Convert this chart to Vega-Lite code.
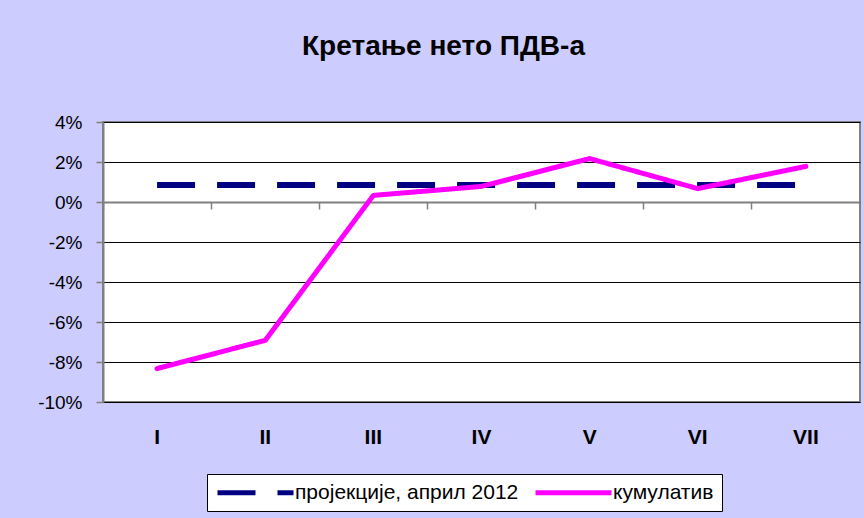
{
  "$schema": "https://vega.github.io/schema/vega-lite/v6.json",
  "width": 757,
  "height": 280,
  "autosize": {"type": "none"},
  "padding": {"left": 103, "top": 122, "right": 4, "bottom": 116},
  "background": "#CCCCFF",
  "title": {
    "text": "Кретање нето ПДВ-а",
    "fontSize": 28,
    "fontWeight": "bold",
    "font": "Liberation Sans",
    "color": "black",
    "anchor": "middle",
    "baseline": "bottom",
    "dx": -38,
    "offset": 24
  },
  "data": {
    "values": [
      {"month": "I", "series": "пројекције, април 2012", "value": 0.85},
      {"month": "II", "series": "пројекције, април 2012", "value": 0.85},
      {"month": "III", "series": "пројекције, април 2012", "value": 0.85},
      {"month": "IV", "series": "пројекције, април 2012", "value": 0.85},
      {"month": "V", "series": "пројекције, април 2012", "value": 0.85},
      {"month": "VI", "series": "пројекције, април 2012", "value": 0.85},
      {"month": "VII", "series": "пројекције, април 2012", "value": 0.85},
      {"month": "I", "series": "кумулатив", "value": -8.33},
      {"month": "II", "series": "кумулатив", "value": -6.92},
      {"month": "III", "series": "кумулатив", "value": 0.33},
      {"month": "IV", "series": "кумулатив", "value": 0.78},
      {"month": "V", "series": "кумулатив", "value": 2.17},
      {"month": "VI", "series": "кумулатив", "value": 0.67},
      {"month": "VII", "series": "кумулатив", "value": 1.78}
    ]
  },
  "encoding": {
    "y": {
      "field": "value",
      "type": "quantitative",
      "scale": {"domain": [-10, 4], "nice": false, "zero": false},
      "axis": {
        "title": null,
        "values": [-10, -8, -6, -4, -2, 0, 2, 4],
        "labelExpr": "datum.value + '%'",
        "labelFontSize": 19,
        "labelColor": "black",
        "labelPadding": 14,
        "domainColor": "#808080",
        "domainWidth": 2,
        "tickColor": "#808080",
        "tickWidth": 1.5,
        "tickSize": 7,
        "grid": true,
        "gridColor": "black",
        "gridWidth": 1
      }
    },
    "color": {
      "field": "series",
      "type": "nominal",
      "scale": {"domain": ["пројекције, април 2012", "кумулатив"], "range": ["#000080", "#FF00FF"]},
      "legend": {
        "orient": "none",
        "legendX": 104,
        "legendY": 352,
        "direction": "horizontal",
        "title": null,
        "fillColor": "white",
        "strokeColor": "black",
        "padding": 8,
        "cornerRadius": 0,
        "symbolType": "M-5,0H5",
        "symbolSize": 231,
        "symbolOffset": 30,
        "symbolStrokeWidth": 5,
        "labelFontSize": 21,
        "labelColor": "black",
        "labelOffset": 29,
        "columnPadding": 6,
        "labelLimit": 400
      }
    },
    "strokeDash": {
      "field": "series",
      "type": "nominal",
      "scale": {"domain": ["пројекције, април 2012", "кумулатив"], "range": [[38, 22], [1, 0]]}
    }
  },
  "layer": [
    {
      "transform": [{"filter": "datum.series === 'пројекције, април 2012'"}],
      "mark": {"type": "line", "strokeWidth": 6, "strokeCap": "butt"},
      "encoding": {
        "x": {
          "field": "month",
          "type": "ordinal",
          "sort": ["I", "II", "III", "IV", "V", "VI", "VII"],
          "bandPosition": 0.5,
          "scale": {"type": "band", "paddingInner": 0, "paddingOuter": 0},
          "axis": {
            "title": null,
            "orient": "bottom",
            "domain": false,
            "ticks": false,
            "grid": false,
            "labelAngle": 0,
            "labelFontSize": 21,
            "labelFontWeight": "bold",
            "labelColor": "black",
            "labelPadding": 24
          }
        }
      }
    },
    {
      "transform": [{"filter": "datum.series === 'кумулатив'"}],
      "mark": {"type": "line", "strokeWidth": 5, "strokeCap": "round", "strokeJoin": "round"},
      "encoding": {
        "x": {
          "field": "month",
          "type": "ordinal",
          "sort": ["I", "II", "III", "IV", "V", "VI", "VII"],
          "bandPosition": 0.5,
          "scale": {"type": "band", "paddingInner": 0, "paddingOuter": 0},
          "axis": {
            "title": null,
            "orient": "bottom",
            "labels": false,
            "grid": false,
            "bandPosition": 0,
            "offset": -200,
            "domainColor": "#808080",
            "domainWidth": 2,
            "tickColor": "#808080",
            "tickWidth": 1.5,
            "tickSize": 7
          }
        }
      }
    }
  ],
  "resolve": {"axis": {"x": "independent"}},
  "config": {
    "font": "Liberation Sans",
    "view": {"fill": "white", "stroke": "#808080", "strokeWidth": 2}
  }
}
